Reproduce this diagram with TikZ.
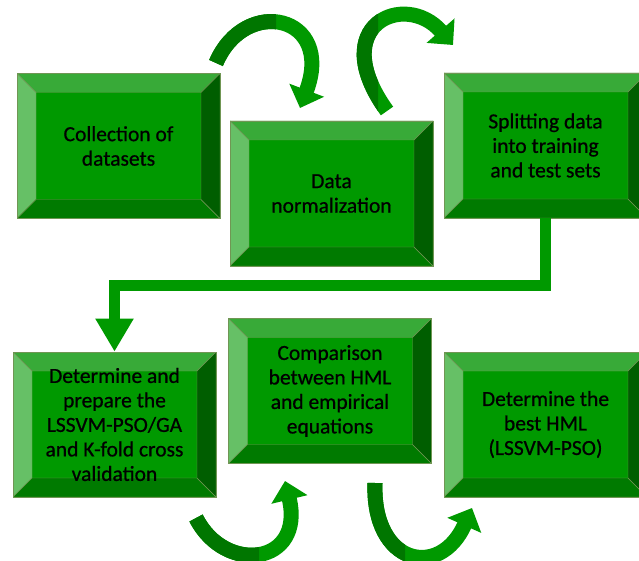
\documentclass[tikz,border=0pt]{standalone}
\usepackage{fontspec}
\setmainfont{Carlito}
\newfontfamily\boxfont[FakeBold=0.7]{Carlito}
\usetikzlibrary{arrows.meta}
\definecolor{gface}{RGB}{0,153,0}
\definecolor{gtop}{RGB}{56,170,56}
\definecolor{gleft}{RGB}{102,192,102}
\definecolor{gbot}{RGB}{0,122,0}
\definecolor{gright}{RGB}{0,94,0}
\definecolor{gedge}{RGB}{112,150,84}
\definecolor{gdark}{RGB}{0,118,0}
\tikzset{
  stage/.style={draw=gedge,line width=0.7pt,fill=gface,minimum width=203pt,minimum height=145pt,
    inner sep=0pt,align=center,font=\boxfont\fontsize{21.5}{24.5}\selectfont,
    path picture={
      \filldraw[gtop,draw=gedge,line width=0.4pt] (path picture bounding box.north west) -- ++(203pt,0pt) -- ++(-19pt,-19pt) -- ++(-165pt,0pt) -- cycle;
      \filldraw[gleft,draw=gedge,line width=0.4pt] (path picture bounding box.north west) -- ++(19pt,-19pt) -- ++(0pt,-107pt) -- ++(-19pt,-19pt) -- cycle;
      \filldraw[gbot,draw=gedge,line width=0.4pt] (path picture bounding box.south west) -- ++(19pt,19pt) -- ++(165pt,0pt) -- ++(19pt,-19pt) -- cycle;
      \filldraw[gright,draw=gedge,line width=0.4pt] (path picture bounding box.south east) -- ++(0pt,145pt) -- ++(-19pt,-19pt) -- ++(0pt,-107pt) -- cycle;
    }},
  flow/.style={draw=gface,line width=11pt,-{Triangle[width=36pt,length=33pt]}},
  curv/.style={draw=gface,line width=15pt,-{Triangle[width=36pt,length=19pt]}}
}
\begin{document}
\begin{tikzpicture}[x=1pt,y=1pt]
\useasboundingbox (0,0) rectangle (639,560);
\clip (0,0) rectangle (639,560);
% boxes
\node[stage] (coll) at (118.5,414) {Collection of\\datasets};
\node[stage] (norm) at (331.5,366.5) {Data\\normalization};
\node[stage] (split) at (545.5,414.5) {Splitting data\\into training\\and test sets};
\node[stage] (prep) at (114.5,135.5) {Determine and\\prepare the\\LSSVM-PSO/GA\\and K-fold cross\\validation};
\node[stage] (comp) at (330,169) {Comparison\\between HML\\and empirical\\equations};
\node[stage] (best) at (545.5,135.5) {Determine the\\best HML\\(LSSVM-PSO)};
% elbow
\draw[flow] (split.south) -- ++(0,-67.5) -| (prep.north);
% curved arrows
\coordinate (a0) at (216,497); \coordinate (a1) at (300,452);
\coordinate (b0) at (387,449); \coordinate (b1) at (453,515);
\coordinate (c0) at (196,42);  \coordinate (c1) at (285,79);
\coordinate (d0) at (375,77);  \coordinate (d1) at (472,52);
\foreach \s/\ax/\ay/\bx/\by/\e/\sx in {a0/29/68/35/93/a1/276,b0/-62/86/-48/55/b1/378,c0/29/-57/20/-84/c1/259,d0/-3/-82/-32/-72/d1/405}{
  \draw[curv] (\s) .. controls +(\ax,\ay) and +(\bx,\by) .. (\e);
  \begin{scope}
    \clip (0,0) rectangle (\sx,560);
    \draw[curv,draw=gdark] (\s) .. controls +(\ax,\ay) and +(\bx,\by) .. (\e);
  \end{scope}
}
\end{tikzpicture}
\end{document}
